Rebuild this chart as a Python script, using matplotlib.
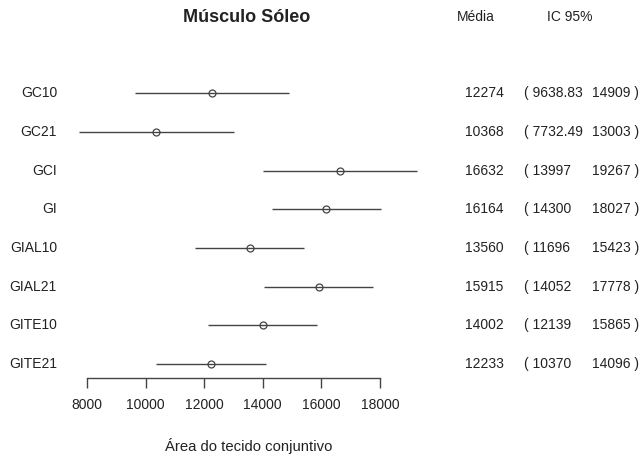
import matplotlib
matplotlib.use("Agg")
import matplotlib.pyplot as plt
import matplotlib.transforms as mtransforms

plt.rcParams['font.family'] = ['Liberation Sans', 'DejaVu Sans']

groups = ["GC10", "GC21", "GCI", "GI", "GIAL10", "GIAL21", "GITE10", "GITE21"]
means = [12274, 10368, 16632, 16164, 13560, 15915, 14002, 12233]
lower = [9638.83, 7732.49, 13997, 14300, 11696, 14052, 12139, 10370]
upper = [14909, 13003, 19267, 18027, 15423, 17778, 15865, 14096]
mean_labels = ["12274", "10368", "16632", "16164", "13560", "15915", "14002", "12233"]
lower_labels = ["9638.83", "7732.49", "13997", "14300", "11696", "14052", "12139", "10370"]
upper_labels = ["14909", "13003", "19267", "18027", "15423", "17778", "15865", "14096"]
xticks = [8000, 10000, 12000, 14000, 16000, 18000]

W, H = 640, 458
fig = plt.figure(figsize=(6.4, 4.58), dpi=100)
ax = fig.add_axes([70 / W, (H - 378) / H, 350 / W, 298 / H])

ypos = list(range(1, len(groups) + 1))
col = "#444444"
tcol = "#222222"
for y, m, lo, hi in zip(ypos, means, lower, upper):
    ax.plot([lo, hi], [y, y], color=col, lw=1.0, solid_capstyle='butt')
ax.plot(means, ypos, 'o', mfc='none', mec=col, ms=5, mew=0.9, ls='none')

ax.set_xlim(7420, 19365)
ax.set_ylim(8.36, 0.66)
for s in ['top', 'right', 'left']:
    ax.spines[s].set_visible(False)
ax.spines['bottom'].set_bounds(8000, 18000)
ax.spines['bottom'].set_color(col)
ax.spines['bottom'].set_linewidth(1.0)
ax.set_yticks([])
ax.set_xticks(xticks)
ax.set_xticklabels([str(t) for t in xticks])
ax.tick_params(axis='x', length=7.2, width=1.0, color=col, pad=7, labelsize=10, labelcolor=tcol)

trans = mtransforms.blended_transform_factory(fig.transFigure, ax.transData)
for y, g, ml, ll, ul in zip(ypos, groups, mean_labels, lower_labels, upper_labels):
    ax.text(57 / W, y, g, transform=trans, ha='right', va='center', fontsize=10, color=tcol)
    ax.text(465 / W, y, ml, transform=trans, ha='left', va='center', fontsize=10, color=tcol)
    ax.text(524 / W, y, "( " + ll, transform=trans, ha='left', va='center', fontsize=10, color=tcol)
    ax.text(639 / W, y, ul + " )", transform=trans, ha='right', va='center', fontsize=10, color=tcol)

fig.text(247 / W, 1 - 18 / H, "Músculo Sóleo", ha='center', va='center', fontsize=13, fontweight='bold', color=tcol)
fig.text(476 / W, 1 - 17 / H, "Média", ha='center', va='center', fontsize=10, color=tcol)
fig.text(570 / W, 1 - 17 / H, "IC 95%", ha='center', va='center', fontsize=10, color=tcol)
fig.text(249 / W, 1 - 446 / H, "Área do tecido conjuntivo", ha='center', va='center', fontsize=10.7, color=tcol)

fig.savefig("out.png", dpi=100)
